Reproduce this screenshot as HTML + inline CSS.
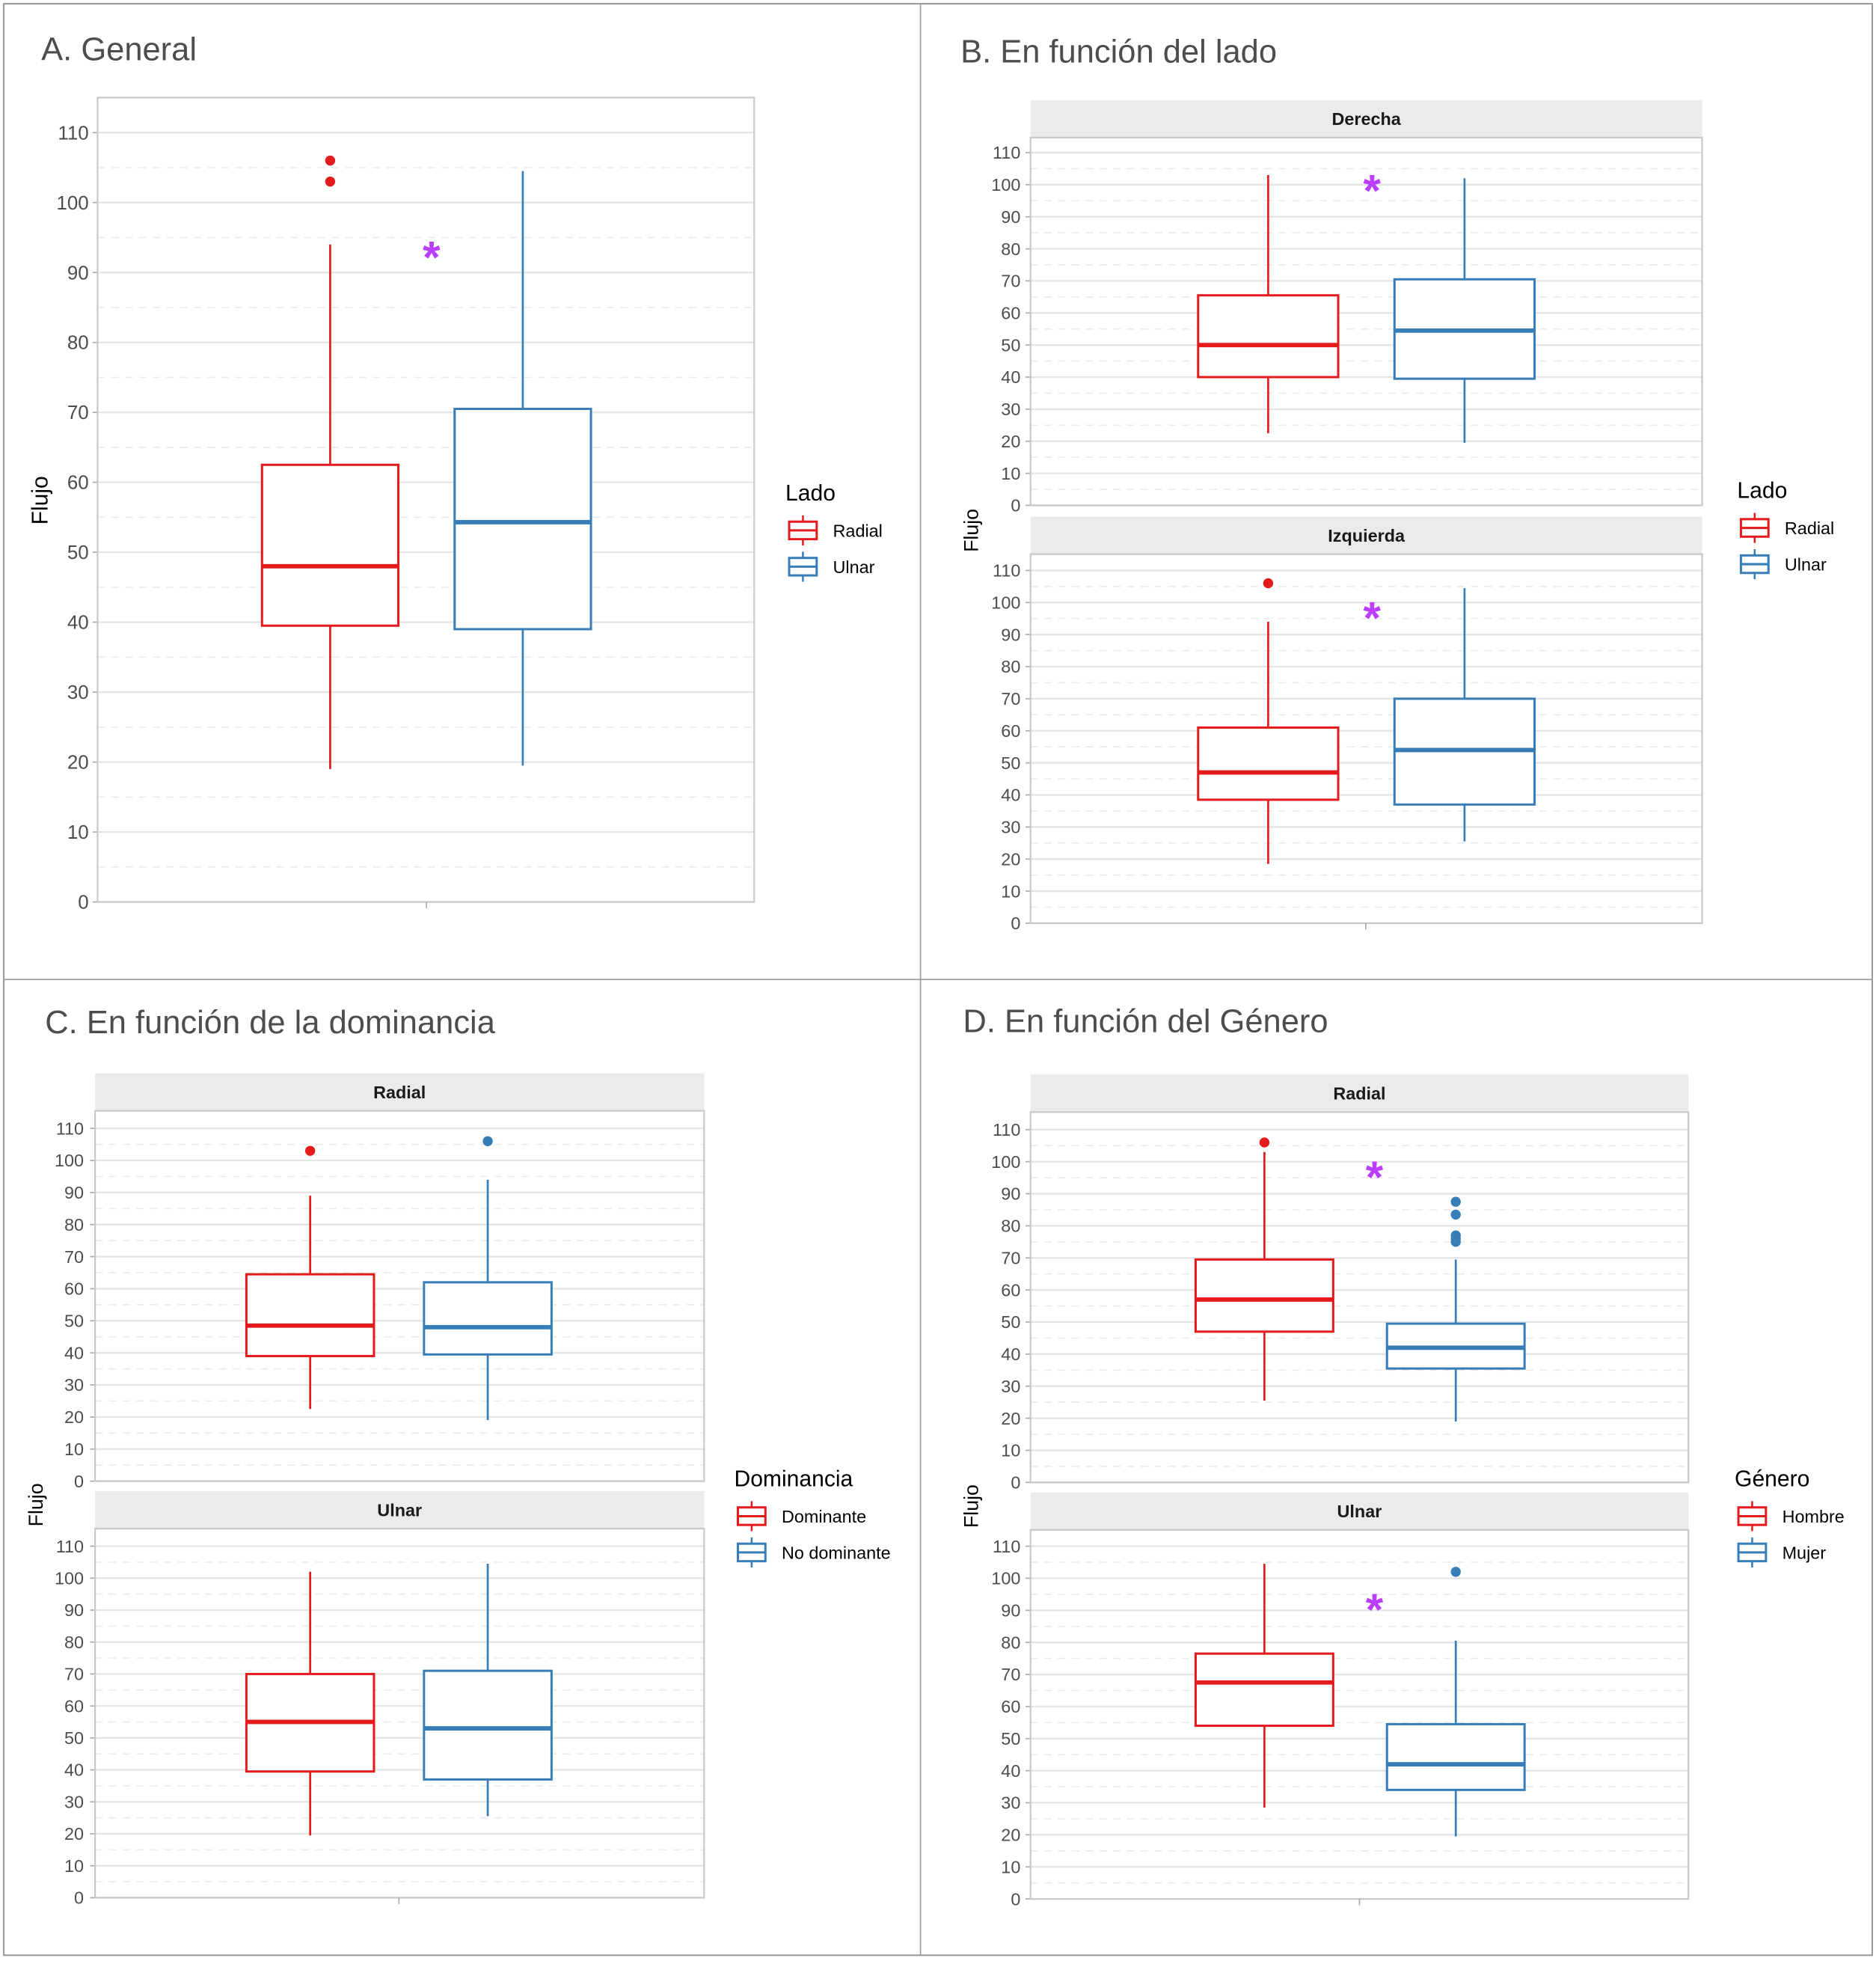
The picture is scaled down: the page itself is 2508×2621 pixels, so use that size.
<!DOCTYPE html>
<html><head><meta charset="utf-8"><style>
html,body{margin:0;padding:0;background:#fff;}
svg{display:block;font-family:"Liberation Sans",Arial,sans-serif;}
</style></head><body>
<svg id="chart" width="2508" height="2621" viewBox="0 0 1500 1567.6" xmlns="http://www.w3.org/2000/svg">
<rect x="0" y="0" width="1500" height="1568" fill="#fff"/>
<rect x="3" y="3" width="1494" height="1560" fill="none" stroke="#999" stroke-width="1.2"/>
<line x1="736" y1="3" x2="736" y2="1563" stroke="#999" stroke-width="1"/>
<line x1="3" y1="783" x2="1497" y2="783" stroke="#999" stroke-width="1"/>
<text x="33" y="48" font-size="26" fill="#4d4d4d">A. General</text>
<text x="768" y="50" font-size="26" fill="#4d4d4d">B. En función del lado</text>
<text x="36" y="826" font-size="26" fill="#4d4d4d">C. En función de la dominancia</text>
<text x="770" y="825" font-size="26" fill="#4d4d4d">D. En función del Género</text>
</svg>
<script>
// Tick labels
const yTicks = [0,10,20,30,40,50,60,70,80,90,100,110];
// Panel A: General (Radial, Ulnar) - [lowWhisker, Q1, median, Q3, highWhisker]
const aRadial = [19, 39.5, 48, 62.5, 94];
const aUlnar = [19.5, 39, 54.3, 70.5, 104.5];
const aRadialOut = [103, 106];
const aUlnarOut = [];
// Panel B: Derecha / Izquierda
const bDerRadial = [22.5, 40, 50, 65.5, 103];
const bDerUlnar = [19.5, 39.5, 54.5, 70.5, 102];
const bIzqRadial = [18.5, 38.5, 47, 61, 94];
const bIzqUlnar = [25.5, 37, 54, 70, 104.5];
const bIzqRadialOut = [106];
// Panel C: Radial / Ulnar by dominancia
const cRadDom = [22.5, 39, 48.5, 64.5, 89];
const cRadNoDom = [19, 39.5, 48, 62, 94];
const cRadDomOut = [103];
const cRadNoDomOut = [106];
const cUlnDom = [19.5, 39.5, 55, 70, 102];
const cUlnNoDom = [25.5, 37, 53, 71, 104.5];
// Panel D: Radial / Ulnar by género
const dRadH = [25.5, 47, 57, 69.5, 103];
const dRadM = [19, 35.5, 42, 49.5, 69.5];
const dRadHOut = [106];
const dRadMOut = [75, 76, 77, 83.5, 87.5];
const dUlnH = [28.5, 54, 67.5, 76.5, 104.5];
const dUlnM = [19.5, 34, 42, 54.5, 80.5];
const dUlnMOut = [102];
// Significance stars (value position)
const starA = [93];
const starB = [100, 97];
const starD = [97, 92];

const RED = "#e41a1c", BLUE = "#377eb8", STAR = "#bb3dff";
const NS = "http://www.w3.org/2000/svg";
const svg = document.getElementById('chart');
function mk(tag, attrs, parent){
  const e = document.createElementNS(NS, tag);
  for (const k in attrs) e.setAttribute(k, attrs[k]);
  (parent||svg).appendChild(e);
  return e;
}
function scale(y0px, y110px){ return v => y0px + (y110px - y0px) * v / 110; }

function panel(name, L, R, T, B, y0px, y110px, tickX, fs, strip, xTickX){
  const y = scale(y0px, y110px);
  const g = mk('g', {});
  
  
  if (strip){
    const s = mk('rect', {x:L, y:T-30, width:R-L, height:30, fill:'#ebebeb'}, g);
    
    
    const st = mk('text', {x:(L+R)/2, y:T-10, 'font-size':14, 'font-weight':'bold', fill:'#1a1a1a', 'text-anchor':'middle'}, g);
    st.textContent = strip;
    
    
  }
  for (let v = 5; v < 112; v += 10){
    const gl = mk('line', {x1:L, x2:R, y1:y(v), y2:y(v), stroke:'#ebebeb', 'stroke-width':1, 'stroke-dasharray':'6,5'}, g);
    
    
  }
  yTicks.forEach(t => {
    const gl = mk('line', {x1:L, x2:R, y1:y(t), y2:y(t), stroke:'#e5e5e5', 'stroke-width':1.4}, g);
    
    
    const tk = mk('line', {x1:L-4, x2:L, y1:y(t), y2:y(t), stroke:'#aaa', 'stroke-width':1}, g);
    
    
    const tl = mk('text', {x:tickX, y:y(t)+fs*0.35, 'font-size':fs, fill:'#4d4d4d', 'text-anchor':'end'}, g);
    tl.textContent = t;
    
    
  });
  const fr = mk('rect', {x:L, y:T, width:R-L, height:B-T, fill:'none', stroke:'#c8c8c8', 'stroke-width':1.3}, g);
  
  
  if (xTickX){
    const xt = mk('line', {x1:xTickX, x2:xTickX, y1:B, y2:B+5, stroke:'#aaa', 'stroke-width':1}, g);
    
    
  }
  return {g, y};
}
function box(p, stats, outs, cx, hw, color, name){
  const y = p.y;
  const g = mk('g', {}, p.g);
  
  
  mk('line', {x1:cx, x2:cx, y1:y(stats[0]), y2:y(stats[1]), stroke:color, 'stroke-width':1.6}, g);
  mk('line', {x1:cx, x2:cx, y1:y(stats[3]), y2:y(stats[4]), stroke:color, 'stroke-width':1.6}, g);
  const r = mk('rect', {x:cx-hw, y:y(stats[3]), width:2*hw, height:y(stats[1])-y(stats[3]), fill:'#fff', stroke:color, 'stroke-width':1.8}, g);
  
  
  const m = mk('line', {x1:cx-hw, x2:cx+hw, y1:y(stats[2]), y2:y(stats[2]), stroke:color, 'stroke-width':3.5}, g);
  
  
  (outs||[]).forEach(o => {
    const c = mk('circle', {cx:cx, cy:y(o), r:4, fill:color}, g);
    
    
  });
}
function star(p, x, v){
  const t = mk('text', {x:x, y:p.y(v)+17, 'font-size':36, 'font-weight':'bold', fill:STAR, 'text-anchor':'middle'}, p.g);
  t.textContent = '*';
  
  
}
function ylabel(x, yc, fs){
  const t = mk('text', {x:x, y:yc, 'font-size':fs, fill:'#000', 'text-anchor':'middle', transform:`rotate(-90 ${x} ${yc})`});
  t.textContent = 'Flujo';
  
  
}
function legend(x, y, title, labels){
  const g = mk('g', {});
  
  
  const t = mk('text', {x:x, y:y, 'font-size':18, fill:'#000'}, g);
  t.textContent = title;
  
  
  [RED, BLUE].forEach((c, i) => {
    const ky = y + 24 + i*29;
    const e = mk('g', {}, g);
    
    
    mk('line', {x1:x+14, x2:x+14, y1:ky-12, y2:ky+12, stroke:c, 'stroke-width':1.5}, e);
    mk('rect', {x:x+3, y:ky-7, width:22, height:14, fill:'#fff', stroke:c, 'stroke-width':1.8}, e);
    mk('line', {x1:x+3, x2:x+25, y1:ky, y2:ky, stroke:c, 'stroke-width':1.8}, e);
    const lt = mk('text', {x:x+38, y:ky+5, 'font-size':14, fill:'#000'}, e);
    lt.textContent = labels[i];
  });
}

// Panel A
const pA = panel('panel-a-plot', 78, 603, 78, 721, 721, 106, 71, 15.5, null, 341);
box(pA, aRadial, aRadialOut, 264, 54.5, RED, 'a-radial');
box(pA, aUlnar, aUlnarOut, 418, 54.5, BLUE, 'a-ulnar');
star(pA, 345, starA[0]);
ylabel(38, 400, 18);
legend(628, 400, 'Lado', ['Radial', 'Ulnar']);

// Panel B
const pB1 = panel('panel-b-derecha', 824, 1361, 110, 404, 404, 122, 816, 14, 'Derecha', null);
box(pB1, bDerRadial, [], 1014, 56, RED, 'b-derecha-radial');
box(pB1, bDerUlnar, [], 1171, 56, BLUE, 'b-derecha-ulnar');
star(pB1, 1097, starB[0]);
const pB2 = panel('panel-b-izquierda', 824, 1361, 443, 738, 738, 456, 816, 14, 'Izquierda', 1092);
box(pB2, bIzqRadial, bIzqRadialOut, 1014, 56, RED, 'b-izquierda-radial');
box(pB2, bIzqUlnar, [], 1171, 56, BLUE, 'b-izquierda-ulnar');
star(pB2, 1097, starB[1]);
ylabel(782, 424, 16);
legend(1389, 398, 'Lado', ['Radial', 'Ulnar']);

// Panel C
const pC1 = panel('panel-c-radial', 76, 563, 888, 1184, 1184, 902, 67, 14, 'Radial', null);
box(pC1, cRadDom, cRadDomOut, 248, 51, RED, 'c-radial-dominante');
box(pC1, cRadNoDom, cRadNoDomOut, 390, 51, BLUE, 'c-radial-no-dominante');
const pC2 = panel('panel-c-ulnar', 76, 563, 1222, 1517, 1517, 1236, 67, 14, 'Ulnar', 319);
box(pC2, cUlnDom, [], 248, 51, RED, 'c-ulnar-dominante');
box(pC2, cUlnNoDom, [], 390, 51, BLUE, 'c-ulnar-no-dominante');
ylabel(34, 1203, 16);
legend(587, 1188, 'Dominancia', ['Dominante', 'No dominante']);

// Panel D
const pD1 = panel('panel-d-radial', 824, 1350, 889, 1185, 1185, 903, 816, 14, 'Radial', null);
box(pD1, dRadH, dRadHOut, 1011, 55, RED, 'd-radial-hombre');
box(pD1, dRadM, dRadMOut, 1164, 55, BLUE, 'd-radial-mujer');
star(pD1, 1099, starD[0]);
const pD2 = panel('panel-d-ulnar', 824, 1350, 1223, 1518, 1518, 1236, 816, 14, 'Ulnar', 1087);
box(pD2, dUlnH, [], 1011, 55, RED, 'd-ulnar-hombre');
box(pD2, dUlnM, dUlnMOut, 1164, 55, BLUE, 'd-ulnar-mujer');
star(pD2, 1099, starD[1]);
ylabel(782, 1204, 16);
legend(1387, 1188, 'Género', ['Hombre', 'Mujer']);
</script>
</body></html>
